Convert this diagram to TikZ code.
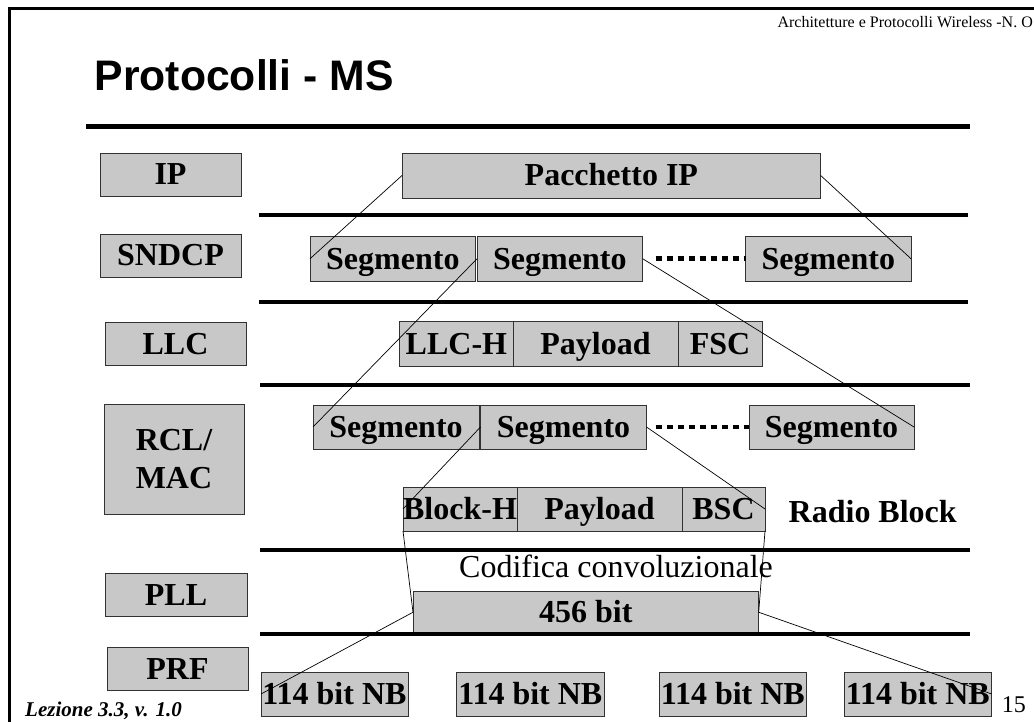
\documentclass[tikz,border=0pt]{standalone}
\usepackage{fontspec}
\setmainfont{Liberation Serif}
\newfontfamily\arialfont{Liberation Sans}
\definecolor{boxgray}{RGB}{200,200,200}
\definecolor{edgegray}{RGB}{50,50,50}
\newcommand\qbox[7][box]{\node[#1, minimum width={(#5-#3)*1pt}, minimum height={(#6-#4)*1pt}] (#2) at ({(#3+#5)/2},{(#4+#6)/2}) {#7};}
\begin{document}
\begin{tikzpicture}[x=1pt,y=-1pt,
  basebox/.style={draw=edgegray, fill=boxgray, line width=0.9pt, inner sep=0pt, outer sep=0pt,
     font=\fontsize{32}{38}\selectfont\bfseries},
  box/.style={basebox, text height=21pt, text depth=0pt},
  layerline/.style={line width=4pt},
  conn/.style={line width=0.7pt, black},
  dotline/.style={line width=4.5pt, dash pattern=on 6.5pt off 4.5pt}]
\fill[white] (0,0) rectangle (1034,722);
\useasboundingbox (0,0) rectangle (1034,722);
% slide frame
\draw[line width=3pt] (9,722) -- (9,8.7) -- (1034,8.7);
\node[anchor=base east, inner sep=0pt, font=\fontsize{16}{19}\selectfont] (hdr) at (1033,27.7) {Architetture e Protocolli Wireless -N. O};
\node[anchor=base west, inner sep=0pt, font=\arialfont\bfseries\fontsize{42.7}{48}\selectfont] (title) at (94.5,91) {Protocolli - MS};
% separator lines
\draw[line width=5pt] (86,126.5) -- (970,126.5);
\draw[layerline] (259,215) -- (968,215);
\draw[layerline] (259,302) -- (968,302);
\draw[layerline] (260,385) -- (970,385);
\draw[layerline] (260,550) -- (970,550);
% left labels
\qbox{ip}{100}{153}{241}{196}{IP}
\qbox{sndcp}{100}{234}{241}{277}{SNDCP}
\qbox{llc}{105}{322}{246}{365}{LLC}
\qbox[basebox, align=center]{rcl}{104}{404}{244}{514}{RCL/\\MAC}
\qbox{pll}{105}{573}{247}{616}{PLL}
\qbox{prf}{107}{647}{248}{690}{PRF}
% IP packet
\qbox{pip}{402}{153}{820.7}{198}{Pacchetto IP}
% SNDCP segments
\qbox{s1}{310}{236.5}{475.7}{281}{Segmento}
\qbox{s2}{477}{236.5}{642.7}{281}{Segmento}
\qbox{s3}{745.7}{236.5}{911}{281}{Segmento}
% LLC frame
\qbox{llch}{399.8}{321.7}{513}{366}{LLC-H}
\qbox{llcp}{513}{321.7}{678}{366}{Payload}
\qbox{fsc}{678}{321.7}{762}{366}{FSC}
% RLC segments
\qbox{r1}{313}{405}{479}{449}{Segmento}
\qbox{r2}{480.5}{405}{646.5}{449}{Segmento}
\qbox{r3}{749}{405}{914}{449}{Segmento}
% radio block
\qbox{bh}{403}{487}{517}{531}{Block-H}
\qbox{bp}{517}{487}{682}{531}{Payload}
\qbox{bsc}{682}{487}{765}{531}{BSC}
\node[anchor=base west, inner sep=0pt, font=\fontsize{32}{38}\selectfont\bfseries] (rb) at (788.5,522) {Radio Block};
\node[anchor=base, inner sep=0pt, font=\fontsize{32}{38}\selectfont] (codif) at (616,577) {Codifica convoluzionale};
\qbox{b456}{413}{591}{758.7}{633.5}{456 bit}
\draw[layerline] (260,633.5) -- (970,633.5);
% normal bursts
\qbox{n1}{261}{672}{408}{716}{114 bit NB}
\qbox{n2}{456.7}{672}{604}{716}{114 bit NB}
\qbox{n3}{659}{672}{806.7}{716}{114 bit NB}
\qbox{n4}{844}{672}{991.7}{716}{114 bit NB}
% dotted continuations
\coordinate (d1) at ([xshift=13pt]s2.east);
\coordinate (d2) at ([xshift=9pt]r2.east);
\draw[dotline] (d1) -- (s3.west);
\draw[dotline] (d2) -- (r3.west);
% mapping lines
\draw[conn] (pip.west) -- (s1.west);
\draw[conn] (pip.east) -- (s3.east);
\draw[conn] (s2.west) -- (r1.west);
\draw[conn] (s2.east) -- (r3.east);
\draw[conn] (r2.west) -- (bh.west);
\draw[conn] (r2.east) -- (bsc.east);
\draw[conn] (bh.south west) -- (b456.west);
\draw[conn] (bsc.south east) -- (b456.east);
\draw[conn] (b456.west) -- (n1.west);
\draw[conn] (b456.east) -- (n4.east);
% footer
\node[anchor=base west, inner sep=0pt, font=\fontsize{21}{25}\selectfont\bfseries\itshape] (lez) at (25,716.5) {Lezione 3.3, v. 1.0};
\node[anchor=base west, inner sep=0pt, font=\fontsize{24}{28}\selectfont] (pg) at (1001.7,712.7) {15};
\end{tikzpicture}
\end{document}
